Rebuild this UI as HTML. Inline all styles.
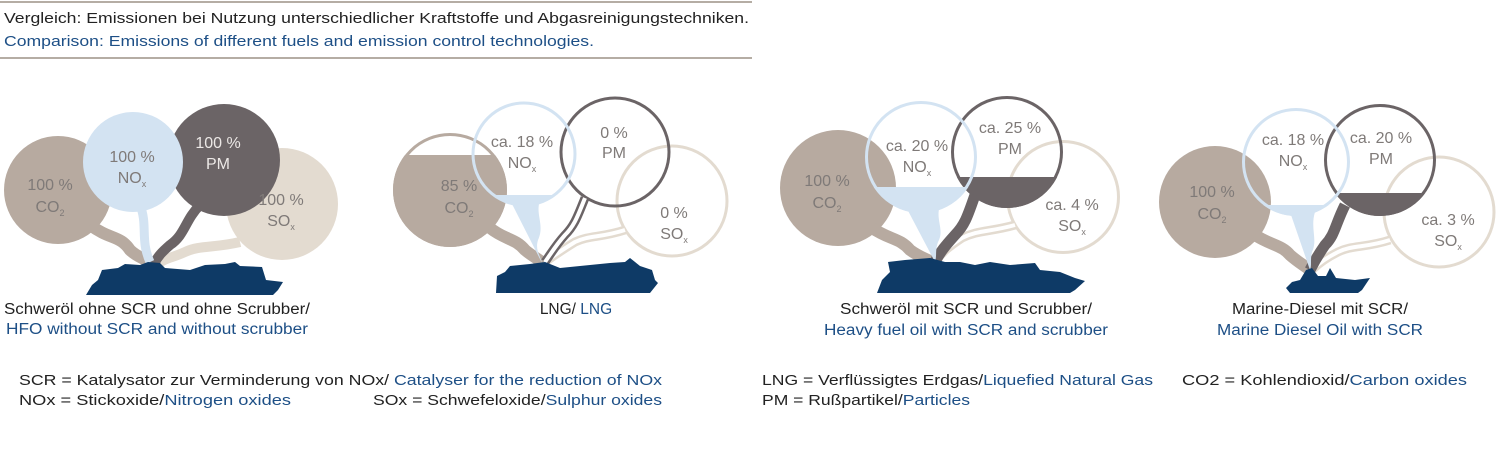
<!DOCTYPE html>
<html><head><meta charset="utf-8"><style>
html,body{margin:0;padding:0;background:#fff;width:1500px;height:474px;overflow:hidden}
text{font-family:"Liberation Sans",sans-serif}
</style></head><body>
<svg width="1500" height="474" viewBox="0 0 1500 474" xmlns="http://www.w3.org/2000/svg">
<defs>
<clipPath id="c2co2"><rect x="380" y="155" width="150" height="120"/></clipPath>
<clipPath id="c2nox"><rect x="460" y="195" width="130" height="40"/></clipPath>
<clipPath id="c3nox"><rect x="860" y="187" width="130" height="50"/></clipPath>
<clipPath id="c3pm"><rect x="945" y="177" width="130" height="50"/></clipPath>
<clipPath id="c4nox"><rect x="1235" y="205" width="130" height="40"/></clipPath>
<clipPath id="c4pm"><rect x="1320" y="193" width="130" height="50"/></clipPath>
</defs>
<line x1="0" y1="2" x2="752" y2="2" stroke="#b5ada4" stroke-width="2"/>
<line x1="0" y1="58" x2="752" y2="58" stroke="#b5ada4" stroke-width="2"/>
<text x="4" y="23" font-size="15" fill="#222" textLength="745" lengthAdjust="spacingAndGlyphs">Vergleich: Emissionen bei Nutzung unterschiedlicher Kraftstoffe und Abgasreinigungstechniken.</text>
<text x="4" y="46" font-size="15" fill="#1d4f86" textLength="590" lengthAdjust="spacingAndGlyphs">Comparison: Emissions of different fuels and emission control technologies.</text>

<!-- PANEL 1 -->
<g>
<circle cx="58" cy="190" r="54" fill="#b7aaa0"/>
<path d="M90 225 C110 240 120 235 130 250 C138 258 145 258 152 264" stroke="#b7aaa0" stroke-width="12" fill="none"/>
<circle cx="282" cy="204" r="56" fill="#e3dbd0"/>
<path d="M240 242 C215 248 200 245 185 252 C172 258 165 258 158 264" stroke="#e3dbd0" stroke-width="10" fill="none"/>
<circle cx="224" cy="160" r="56" fill="#6b6466"/>
<path d="M200 205 C185 220 185 235 170 245 C162 252 158 256 154 264" stroke="#6b6466" stroke-width="10" fill="none"/>
<circle cx="133" cy="162" r="50" fill="#d3e3f2"/>
<path d="M140 205 C148 225 140 240 150 262" stroke="#d3e3f2" stroke-width="9" fill="none"/>
<text font-size="16" fill="#7f7a78" text-anchor="middle"><tspan x="50" y="190">100 %</tspan><tspan x="50" y="212">CO<tspan font-size="9" dy="4">2</tspan></tspan></text>
<text font-size="16" fill="#7f7a78" text-anchor="middle"><tspan x="132" y="162">100 %</tspan><tspan x="132" y="183">NO<tspan font-size="9" dy="4">x</tspan></tspan></text>
<text font-size="16" fill="#ece8e6" text-anchor="middle"><tspan x="218" y="148">100 %</tspan><tspan x="218" y="169">PM</tspan></text>
<text font-size="16" fill="#7f7a78" text-anchor="middle"><tspan x="281" y="205">100 %</tspan><tspan x="281" y="226">SO<tspan font-size="9" dy="4">x</tspan></tspan></text>
<path d="M86 295 L92 285 L98 280 L102 270 L118 268 L125 264 L140 265 L148 262 L160 263 L165 268 L190 270 L205 265 L225 264 L235 262 L240 266 L262 267 L266 280 L283 282 L278 290 L273 295 Z" fill="#0e3a66"/>
<text x="157" y="314" font-size="15.5" fill="#222" text-anchor="middle" textLength="306" lengthAdjust="spacingAndGlyphs">Schweröl ohne SCR und ohne Scrubber/</text>
<text x="157" y="334" font-size="15.5" fill="#1d4f86" text-anchor="middle" textLength="302" lengthAdjust="spacingAndGlyphs">HFO without SCR and without scrubber</text>
</g>

<!-- PANEL 2 -->
<g>
<circle cx="450" cy="190" r="55.5" fill="none" stroke="#b7aaa0" stroke-width="3"/>
<circle cx="450" cy="190" r="57" fill="#b7aaa0" clip-path="url(#c2co2)"/>
<path d="M490 228 C505 240 515 238 525 250 C532 256 537 258 543 263" stroke="#b7aaa0" stroke-width="12" fill="none"/>
<circle cx="672" cy="201" r="55" fill="none" stroke="#e3dbd0" stroke-width="3"/>
<path d="M625 230 C600 238 590 235 575 242 C562 250 555 255 545 262" stroke="#e3dbd0" stroke-width="9" fill="none"/>
<path d="M625 230 C600 238 590 235 575 242 C562 250 555 255 545 262" stroke="#fff" stroke-width="4" fill="none"/>
<circle cx="615" cy="152" r="54" fill="none" stroke="#6b6466" stroke-width="3"/>
<path d="M585 198 C578 215 575 225 565 235 C556 245 552 252 545 262" stroke="#6b6466" stroke-width="9" fill="none"/>
<path d="M585 198 C578 215 575 225 565 235 C556 245 552 252 545 262" stroke="#fff" stroke-width="4" fill="none"/>
<circle cx="524" cy="154" r="51" fill="none" stroke="#d3e3f2" stroke-width="3"/>
<circle cx="524" cy="154" r="52" fill="#d3e3f2" clip-path="url(#c2nox)"/>
<path d="M510 200 L540 200 C535 215 545 225 538 240 C535 250 540 255 542 263 Z" fill="#d3e3f2"/>
<text font-size="16" fill="#7f7a78" text-anchor="middle"><tspan x="459" y="191">85 %</tspan><tspan x="459" y="213">CO<tspan font-size="9" dy="4">2</tspan></tspan></text>
<text font-size="16" fill="#7f7a78" text-anchor="middle"><tspan x="522" y="147">ca. 18 %</tspan><tspan x="522" y="168">NO<tspan font-size="9" dy="4">x</tspan></tspan></text>
<text font-size="16" fill="#7f7a78" text-anchor="middle"><tspan x="614" y="138">0 %</tspan><tspan x="614" y="158">PM</tspan></text>
<text font-size="16" fill="#7f7a78" text-anchor="middle"><tspan x="674" y="218">0 %</tspan><tspan x="674" y="239">SO<tspan font-size="9" dy="4">x</tspan></tspan></text>
<path d="M496 293 L497 276 L505 272 L510 266 L530 264 L545 262 L560 268 L580 266 L600 264 L610 263 L625 262 L630 258 L640 266 L652 270 L655 280 L658 283 L650 293 Z" fill="#0e3a66"/>
<text x="576" y="314" font-size="15.5" fill="#222" text-anchor="middle"><tspan>LNG/ </tspan><tspan fill="#1d4f86">LNG</tspan></text>
</g>

<!-- PANEL 3 -->
<g>
<circle cx="838" cy="188" r="58" fill="#b7aaa0"/>
<path d="M872 228 C890 240 900 238 910 250 C918 256 924 258 932 262" stroke="#b7aaa0" stroke-width="12" fill="none"/>
<circle cx="1063" cy="197" r="55.5" fill="none" stroke="#e3dbd0" stroke-width="3"/>
<path d="M1015 225 C990 232 978 230 962 238 C950 246 942 252 935 262" stroke="#e3dbd0" stroke-width="9" fill="none"/>
<path d="M1015 225 C990 232 978 230 962 238 C950 246 942 252 935 262" stroke="#fff" stroke-width="4" fill="none"/>
<circle cx="1007" cy="152" r="54.5" fill="none" stroke="#6b6466" stroke-width="3"/>
<circle cx="1007" cy="152" r="56" fill="#6b6466" clip-path="url(#c3pm)"/>
<path d="M975 195 C968 215 965 225 955 235 C946 245 940 252 935 262" stroke="#6b6466" stroke-width="11" fill="none"/>
<circle cx="921" cy="157" r="54.5" fill="none" stroke="#d3e3f2" stroke-width="3"/>
<circle cx="921" cy="157" r="56" fill="#d3e3f2" clip-path="url(#c3nox)"/>
<path d="M905 205 L940 205 C935 220 945 230 938 242 C935 250 937 256 935 262 Z" fill="#d3e3f2"/>
<text font-size="16" fill="#7f7a78" text-anchor="middle"><tspan x="827" y="186">100 %</tspan><tspan x="827" y="208">CO<tspan font-size="9" dy="4">2</tspan></tspan></text>
<text font-size="16" fill="#7f7a78" text-anchor="middle"><tspan x="917" y="151">ca. 20 %</tspan><tspan x="917" y="172">NO<tspan font-size="9" dy="4">x</tspan></tspan></text>
<text font-size="16" fill="#7f7a78" text-anchor="middle"><tspan x="1010" y="133">ca. 25 %</tspan><tspan x="1010" y="154">PM</tspan></text>
<text font-size="16" fill="#7f7a78" text-anchor="middle"><tspan x="1072" y="210">ca. 4 %</tspan><tspan x="1072" y="231">SO<tspan font-size="9" dy="4">x</tspan></tspan></text>
<path d="M877 293 L882 280 L890 272 L888 262 L905 260 L930 258 L945 262 L960 262 L975 265 L990 262 L1010 265 L1035 263 L1040 270 L1060 272 L1075 278 L1085 281 L1075 290 L1070 293 Z" fill="#0e3a66"/>
<text x="966" y="314" font-size="15.5" fill="#222" text-anchor="middle" textLength="252" lengthAdjust="spacingAndGlyphs">Schweröl mit SCR und Scrubber/</text>
<text x="966" y="335" font-size="15.5" fill="#1d4f86" text-anchor="middle" textLength="284" lengthAdjust="spacingAndGlyphs">Heavy fuel oil with SCR and scrubber</text>
</g>

<!-- PANEL 4 -->
<g>
<circle cx="1215" cy="202" r="56" fill="#b7aaa0"/>
<path d="M1255 235 C1270 245 1282 245 1290 255 C1298 262 1302 264 1310 270" stroke="#b7aaa0" stroke-width="12" fill="none"/>
<circle cx="1439" cy="212" r="55" fill="none" stroke="#e3dbd0" stroke-width="3"/>
<path d="M1390 240 C1365 248 1352 245 1338 252 C1326 258 1318 264 1312 270" stroke="#e3dbd0" stroke-width="9" fill="none"/>
<path d="M1390 240 C1365 248 1352 245 1338 252 C1326 258 1318 264 1312 270" stroke="#fff" stroke-width="4" fill="none"/>
<circle cx="1380" cy="160" r="54.5" fill="none" stroke="#6b6466" stroke-width="3"/>
<circle cx="1380" cy="160" r="56" fill="#6b6466" clip-path="url(#c4pm)"/>
<path d="M1345 205 C1335 225 1335 235 1325 245 C1318 255 1314 262 1310 270" stroke="#6b6466" stroke-width="11" fill="none"/>
<circle cx="1296" cy="162" r="52.5" fill="none" stroke="#d3e3f2" stroke-width="3"/>
<circle cx="1296" cy="162" r="54" fill="#d3e3f2" clip-path="url(#c4nox)"/>
<path d="M1290 212 L1315 212 C1310 228 1318 240 1312 252 C1310 260 1312 265 1310 270 Z" fill="#d3e3f2"/>
<text font-size="16" fill="#7f7a78" text-anchor="middle"><tspan x="1212" y="197">100 %</tspan><tspan x="1212" y="219">CO<tspan font-size="9" dy="4">2</tspan></tspan></text>
<text font-size="16" fill="#7f7a78" text-anchor="middle"><tspan x="1293" y="145">ca. 18 %</tspan><tspan x="1293" y="166">NO<tspan font-size="9" dy="4">x</tspan></tspan></text>
<text font-size="16" fill="#7f7a78" text-anchor="middle"><tspan x="1381" y="143">ca. 20 %</tspan><tspan x="1381" y="164">PM</tspan></text>
<text font-size="16" fill="#7f7a78" text-anchor="middle"><tspan x="1448" y="225">ca. 3 %</tspan><tspan x="1448" y="246">SO<tspan font-size="9" dy="4">x</tspan></tspan></text>
<path d="M1286 288 L1292 282 L1300 280 L1306 270 L1312 268 L1318 276 L1326 276 L1330 268 L1336 278 L1355 280 L1370 278 L1362 290 L1358 293 L1290 293 Z" fill="#0e3a66"/>
<text x="1320" y="314" font-size="15.5" fill="#222" text-anchor="middle" textLength="176" lengthAdjust="spacingAndGlyphs">Marine-Diesel mit SCR/</text>
<text x="1320" y="335" font-size="15.5" fill="#1d4f86" text-anchor="middle" textLength="206" lengthAdjust="spacingAndGlyphs">Marine Diesel Oil with SCR</text>
</g>

<!-- LEGEND -->
<g font-size="15">
<text x="19" y="385" fill="#222" textLength="643" lengthAdjust="spacingAndGlyphs">SCR =  Katalysator zur Verminderung von NOx/ <tspan fill="#1d4f86">Catalyser for the reduction of NOx</tspan></text>
<text x="19" y="405" fill="#222" textLength="272" lengthAdjust="spacingAndGlyphs">NOx = Stickoxide/<tspan fill="#1d4f86">Nitrogen oxides</tspan></text>
<text x="373" y="405" fill="#222" textLength="289" lengthAdjust="spacingAndGlyphs">SOx = Schwefeloxide/<tspan fill="#1d4f86">Sulphur oxides</tspan></text>
<text x="762" y="385" fill="#222" textLength="391" lengthAdjust="spacingAndGlyphs">LNG =  Verflüssigtes Erdgas/<tspan fill="#1d4f86">Liquefied Natural Gas</tspan></text>
<text x="1182" y="385" fill="#222" textLength="285" lengthAdjust="spacingAndGlyphs">CO2 =  Kohlendioxid/<tspan fill="#1d4f86">Carbon oxides</tspan></text>
<text x="762" y="405" fill="#222" textLength="208" lengthAdjust="spacingAndGlyphs">PM =  Rußpartikel/<tspan fill="#1d4f86">Particles</tspan></text>
</g>
</svg>
</body></html>
